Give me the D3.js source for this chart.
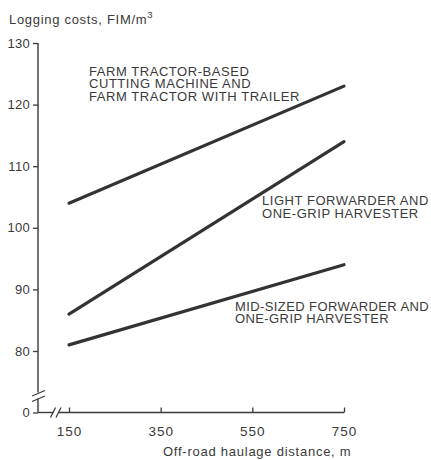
<!DOCTYPE html>
<html><head><meta charset="utf-8">
<script src="https://cdn.jsdelivr.net/npm/d3@7"></script>
<style>
body{margin:0;background:#fff;}
svg text{font-family:"Liberation Sans",Arial,Helvetica,sans-serif;fill:#3a3a3a;}
</style></head>
<body><svg id="c" width="431" height="460"></svg>
<script>
const distances = [150, 750];
const tractorCosts = [104, 123];
const lightCosts = [86, 114];
const midCosts = [81, 94];
const yTicks = [0, 80, 90, 100, 110, 120, 130];
const xTicks = [150, 350, 550, 750];
const series = [
  {name:"tractor", values: tractorCosts, label:["FARM TRACTOR-BASED","CUTTING MACHINE AND","FARM TRACTOR WITH TRAILER"], lx:89, ly:75.5, ls:0.55},
  {name:"light", values: lightCosts, label:["LIGHT FORWARDER AND","ONE-GRIP HARVESTER"], lx:262, ly:205, ls:0.55},
  {name:"mid", values: midCosts, label:["MID-SIZED FORWARDER AND","ONE-GRIP HARVESTER"], lx:235, ly:310.5, ls:0.4}
];

const svg = d3.select("#c");
const x = d3.scaleLinear().domain([0,150,750]).range([38,69,344]);
const y = d3.scaleLinear().domain([0,80,130]).range([412.5,351,43]);
const ink = "#3a3a3a";

// y axis
const ya = svg.append("g").attr("transform","translate(38,0)")
  .call(d3.axisLeft(y).tickValues(yTicks).tickSize(5).tickPadding(3).tickSizeOuter(0));
ya.select(".domain").remove();
ya.selectAll("line").attr("stroke",ink).attr("stroke-width",1.3);
ya.selectAll("text").style("font-size","13px").style("letter-spacing","0.3px").attr("fill",ink);
// y axis line with break
svg.append("line").attr("x1",38).attr("x2",38).attr("y1",y(130)).attr("y2",392.5).attr("stroke",ink).attr("stroke-width",1.4);
svg.append("line").attr("x1",38).attr("x2",38).attr("y1",398.5).attr("y2",y(0)).attr("stroke",ink).attr("stroke-width",1.4);
[393,398.5].forEach(cy=>{
  svg.append("line").attr("x1",32).attr("y1",cy+3).attr("x2",45).attr("y2",cy-2.5).attr("stroke",ink).attr("stroke-width",1.2);
});

// x axis
const xa = svg.append("g").attr("transform",`translate(0,${y(0)})`)
  .call(d3.axisBottom(x).tickValues(xTicks).tickSize(-5).tickPadding(14).tickSizeOuter(0));
xa.select(".domain").remove();
xa.selectAll("line").attr("stroke",ink).attr("stroke-width",1.3);
xa.selectAll("text").style("font-size","13.5px").style("letter-spacing","1px").attr("fill",ink);
svg.append("line").attr("x1",38).attr("x2",53.5).attr("y1",y(0)).attr("y2",y(0)).attr("stroke",ink).attr("stroke-width",1.4);
svg.append("line").attr("x1",59).attr("x2",x(750)).attr("y1",y(0)).attr("y2",y(0)).attr("stroke",ink).attr("stroke-width",1.4);
[53,58.5].forEach(cx=>{
  svg.append("line").attr("x1",cx-2.5).attr("y1",y(0)+5).attr("x2",cx+2.5).attr("y2",y(0)-5).attr("stroke",ink).attr("stroke-width",1.2);
});

// lines
const line = d3.line().x((d,i)=>x(distances[i])).y(d=>y(d));
series.forEach(s=>{
  svg.append("path").attr("d",line(s.values)).attr("fill","none").attr("stroke","#333").attr("stroke-width",3.2).attr("stroke-linecap","round");
  const t = svg.append("text").attr("x",s.lx).attr("y",s.ly).style("font-size","13px").style("letter-spacing",s.ls+"px");
  s.label.forEach((l,i)=>t.append("tspan").attr("x",s.lx).attr("dy", i===0?0:12.8).text(l));
});

// titles
const yt = svg.append("text").attr("x",9).attr("y",24).style("font-size","13px").style("letter-spacing","0.7px");
yt.append("tspan").text("Logging costs, FIM/m");
yt.append("tspan").attr("dy",-6).style("font-size","9.5px").text("3");
svg.append("text").attr("x",163).attr("y",456).style("font-size","13px").style("letter-spacing","0.75px").text("Off-road haulage distance, m");
</script></body></html>
